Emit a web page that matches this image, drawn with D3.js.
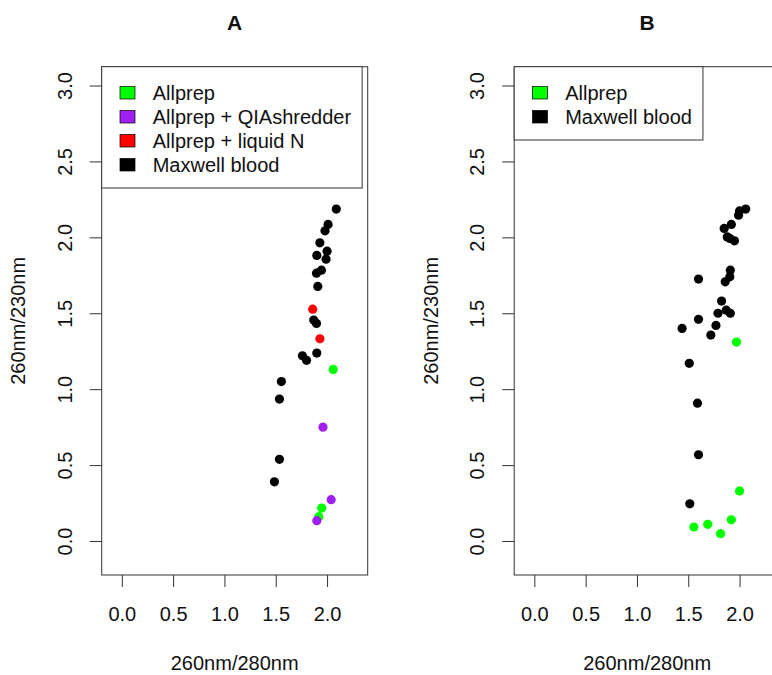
<!DOCTYPE html>
<html>
<head>
<meta charset="utf-8">
<script src="https://cdn.jsdelivr.net/npm/d3@7"></script>
<style>
  body { margin: 0; background: #fff; }
  text { font-family: "Liberation Sans", Arial, sans-serif; fill: #111; }
</style>
</head>
<body>
<svg id="chart" width="772" height="675"></svg>
<script>
// ---- data ----
const xTicks = [0, 0.5, 1, 1.5, 2]
const yTicks = [0, 0.5, 1, 1.5, 2, 2.5, 3]
const groupNames = ['Allprep', 'Allprep + QIAshredder', 'Allprep + liquid N', 'Maxwell blood']
const groupColors = ['#00ff00', '#a020f0', '#ff0000', '#000000']

// panel A  [260/280, 260/230]
const aAllprep = [[2.06, 1.13], [1.948, 0.217], [1.92, 0.16]]
const aQiashredder = [[1.96, 0.75], [2.04, 0.272], [1.9, 0.134]]
const aLiquidN = [[1.86, 1.527], [1.93, 1.332]]
const aMaxwell = [
  [2.09, 2.186], [2.01, 2.085], [1.98, 2.043], [1.93, 1.964], [2.0, 1.909],
  [1.99, 1.856], [1.9, 1.881], [1.945, 1.784], [1.897, 1.764], [1.91, 1.677],
  [1.87, 1.455], [1.897, 1.433], [1.9, 1.238], [1.76, 1.22], [1.8, 1.19],
  [1.555, 1.05], [1.536, 0.935], [1.536, 0.538], [1.487, 0.39]
]

// panel B
const bAllprep = [[1.97, 1.31], [2.0, 0.33], [1.92, 0.14], [1.69, 0.11], [1.555, 0.092], [1.815, 0.048]]
const bMaxwell = [
  [2.06, 2.186], [2.0, 2.174], [1.99, 2.146], [1.92, 2.085], [1.85, 2.059],
  [1.88, 2.003], [1.905, 1.993], [1.95, 1.977], [1.91, 1.784], [1.905, 1.74],
  [1.86, 1.707], [1.6, 1.725], [1.825, 1.58], [1.79, 1.5], [1.87, 1.52],
  [1.91, 1.5], [1.6, 1.46], [1.44, 1.4], [1.77, 1.42], [1.72, 1.356],
  [1.51, 1.17], [1.59, 0.908], [1.6, 0.568], [1.515, 0.245]
]

const panels = [
  { title: 'A', left: 101.7, series: [aMaxwell, aAllprep, aQiashredder, aLiquidN], groups: [3, 0, 1, 2], legend: [0, 1, 2, 3] },
  { title: 'B', left: 514.2, series: [bMaxwell, bAllprep], groups: [3, 0], legend: [0, 3] }
]

// ---- layout ----
const svg = d3.select('#chart')
svg.append('rect').attr('width', 772).attr('height', 675).attr('fill', '#fff')

const plotW = 266
const plotTop = 66.7
const plotBottom = 575
const fontSize = 20
const tickLen = 12
const lineColour = '#333'

panels.forEach((p) => {
  const x = d3.scaleLinear().domain([-0.196, 2.396]).range([p.left, p.left + plotW])
  const y = d3.scaleLinear().domain([-0.224, 3.124]).range([plotBottom, plotTop])
  const g = svg.append('g').classed('panel', true)

  // points
  p.series.forEach((pts, i) => {
    g.append('g')
      .attr('fill', groupColors[p.groups[i]])
      .selectAll('circle')
      .data(pts)
      .join('circle')
      .attr('cx', (d) => x(d[0]))
      .attr('cy', (d) => y(d[1]))
      .attr('r', 4.6)
  })

  // plot box
  g.append('rect')
    .attr('x', p.left)
    .attr('y', plotTop)
    .attr('width', plotW)
    .attr('height', plotBottom - plotTop)
    .attr('fill', 'none')
    .attr('stroke', lineColour)
    .attr('stroke-width', 1)

  // x axis
  const xAxis = g.append('g')
    .attr('transform', `translate(0, ${plotBottom})`)
    .call(d3.axisBottom(x).tickValues(xTicks).tickFormat(d3.format('.1f')).tickSize(tickLen).tickPadding(20))
  xAxis.select('.domain').remove()
  xAxis.selectAll('line').attr('stroke', lineColour)
  xAxis.selectAll('text').attr('font-size', fontSize).attr('fill', '#111')
  xAxis.attr('font-family', null)

  // y axis, labels turned upright like R's default
  const yAxis = g.append('g')
    .attr('transform', `translate(${p.left}, 0)`)
    .call(d3.axisLeft(y).tickValues(yTicks).tickFormat(d3.format('.1f')).tickSize(tickLen))
  yAxis.select('.domain').remove()
  yAxis.selectAll('line').attr('stroke', lineColour)
  yAxis.selectAll('text')
    .attr('x', null)
    .attr('dy', null)
    .attr('text-anchor', 'middle')
    .attr('transform', 'translate(-30, 0) rotate(-90)')
    .attr('font-size', fontSize)
    .attr('fill', '#111')
  yAxis.attr('font-family', null)

  // titles
  g.append('text')
    .attr('x', p.left + plotW / 2)
    .attr('y', 30)
    .attr('text-anchor', 'middle')
    .attr('font-size', 21)
    .attr('font-weight', 'bold')
    .text(p.title)

  g.append('text')
    .attr('x', p.left + plotW / 2)
    .attr('y', 670)
    .attr('text-anchor', 'middle')
    .attr('font-size', fontSize)
    .text('260nm/280nm')

  g.append('text')
    .attr('transform', `translate(${p.left - 76.5}, ${(plotTop + plotBottom) / 2}) rotate(-90)`)
    .attr('text-anchor', 'middle')
    .attr('font-size', fontSize)
    .text('260nm/230nm')

  // legend
  const leg = g.append('g')
  const legBox = leg.append('rect')
    .attr('x', p.left)
    .attr('y', plotTop)
    .attr('height', 33.3 + (p.legend.length - 1) * 24 + 16)
    .attr('fill', '#fff')
    .attr('stroke', lineColour)
  let maxW = 0
  p.legend.forEach((gi, i) => {
    const base = plotTop + 33.3 + i * 24
    leg.append('rect')
      .attr('x', p.left + 18.3)
      .attr('y', base - 13.5)
      .attr('width', 15)
      .attr('height', 12.5)
      .attr('fill', groupColors[gi])
      .attr('stroke', '#000')
      .attr('stroke-width', 0.7)
    const t = leg.append('text')
      .attr('x', p.left + 51)
      .attr('y', base)
      .attr('font-size', fontSize)
      .text(groupNames[gi])
    maxW = Math.max(maxW, t.node().getComputedTextLength())
  })
  legBox.attr('width', 51 + maxW + 11)
})
</script>
</body>
</html>
